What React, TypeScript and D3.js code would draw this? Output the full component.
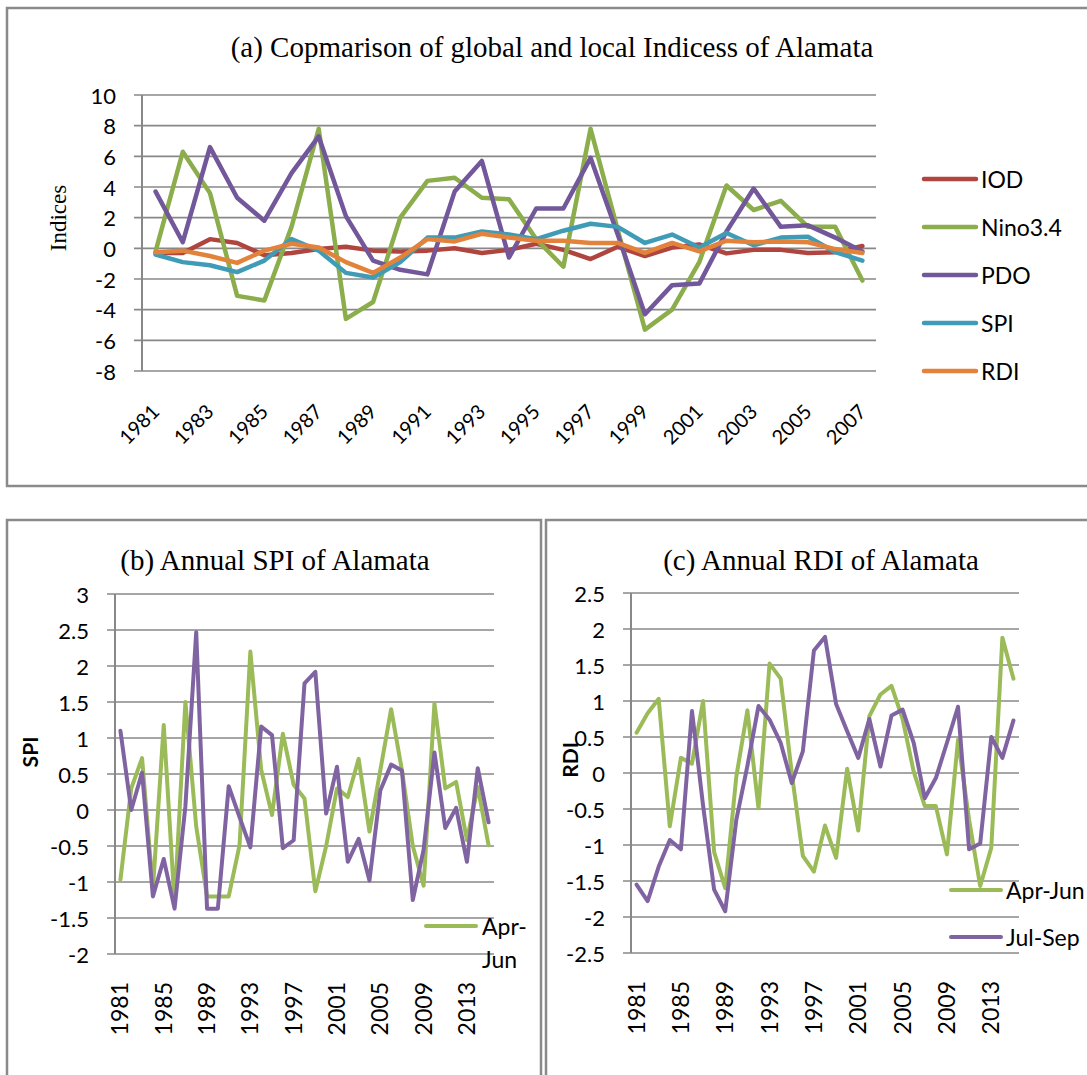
import * as d3 from "d3";

// panel (a): 1981-2007
const yearsA = d3.range(1981, 2008).map(String);
const iod = [-0.3, -0.3, 0.6, 0.35, -0.45, -0.3, -0.05, 0.1, -0.15, -0.2, -0.15, 0.0, -0.3, -0.1, 0.3, -0.1, -0.7, 0.1, -0.5, 0.05, 0.25, -0.33, -0.1, -0.1, -0.3, -0.25, 0.15];
const nino = [-0.2, 6.3, 3.6, -3.1, -3.4, 1.4, 7.8, -4.6, -3.5, 2.0, 4.4, 4.6, 3.3, 3.2, 0.6, -1.2, 7.8, 1.2, -5.3, -4.0, -0.9, 4.1, 2.5, 3.1, 1.4, 1.4, -2.1];
const pdo = [3.7, 0.4, 6.6, 3.3, 1.8, 4.9, 7.3, 2.1, -0.8, -1.4, -1.7, 3.7, 5.7, -0.6, 2.6, 2.6, 5.9, 0.9, -4.3, -2.4, -2.3, 1.1, 3.9, 1.4, 1.5, 0.7, -0.2];
const spiA = [-0.4, -0.9, -1.1, -1.55, -0.8, 0.6, -0.15, -1.6, -1.9, -0.9, 0.7, 0.7, 1.1, 0.9, 0.6, 1.15, 1.6, 1.4, 0.35, 0.9, 0.05, 1.0, 0.2, 0.7, 0.75, -0.25, -0.8];
const rdiA = [-0.25, -0.15, -0.5, -0.95, -0.15, 0.3, 0.05, -0.9, -1.6, -0.6, 0.6, 0.45, 0.95, 0.7, 0.5, 0.5, 0.35, 0.35, -0.3, 0.35, -0.2, 0.5, 0.4, 0.45, 0.4, -0.05, -0.3];
const ticksA = [-8, -6, -4, -2, 0, 2, 4, 6, 8, 10];

// panels (b) and (c): 1981-2015
const yearsB = d3.range(1981, 2016).map(String);
const spiAprJun = [-0.97, 0.3, 0.72, -1.1, 1.18, -1.3, 1.5, -0.23, -1.2, -1.2, -1.2, -0.49, 2.2, 0.56, -0.07, 1.06, 0.35, 0.16, -1.13, -0.5, 0.3, 0.18, 0.71, -0.3, 0.55, 1.4, 0.55, -0.5, -1.05, 1.48, 0.3, 0.39, -0.42, 0.32, -0.49];
const spiJulSep = [1.1, 0.0, 0.52, -1.2, -0.68, -1.37, 0.05, 2.47, -1.37, -1.37, 0.33, -0.1, -0.52, 1.16, 1.04, -0.53, -0.42, 1.76, 1.92, -0.05, 0.6, -0.72, -0.4, -0.98, 0.27, 0.63, 0.55, -1.25, -0.55, 0.8, -0.25, 0.03, -0.72, 0.58, -0.17];
const rdiAprJun = [0.56, 0.83, 1.03, -0.74, 0.21, 0.13, 1.0, -1.1, -1.6, -0.05, 0.87, -0.49, 1.52, 1.31, 0.0, -1.15, -1.37, -0.73, -1.18, 0.06, -0.8, 0.79, 1.09, 1.21, 0.75, 0.02, -0.46, -0.46, -1.13, 0.46, -0.65, -1.57, -1.04, 1.88, 1.31];
const rdiJulSep = [-1.55, -1.78, -1.3, -0.93, -1.06, 0.86, -0.45, -1.62, -1.92, -0.65, 0.1, 0.93, 0.74, 0.42, -0.14, 0.3, 1.7, 1.89, 0.96, 0.58, 0.21, 0.75, 0.09, 0.8, 0.88, 0.42, -0.35, -0.07, 0.42, 0.92, -1.06, -0.98, 0.5, 0.21, 0.73];
const ticksSpi = [-2, -1.5, -1, -0.5, 0, 0.5, 1, 1.5, 2, 2.5, 3];
const ticksRdi = [-2.5, -2, -1.5, -1, -0.5, 0, 0.5, 1, 1.5, 2, 2.5];

const GRID = "#888888";
const SANS = "Lato, 'Liberation Sans', sans-serif";
const SERIF = "'Liberation Serif', 'Times New Roman', serif";

type Series = { name: string; values: number[]; color: string };

function Lines({
  years,
  series,
  ticks,
  left,
  right,
  top,
  bottom,
  width,
  labelEvery,
  rotate,
}: {
  years: string[];
  series: Series[];
  ticks: number[];
  left: number;
  right: number;
  top: number;
  bottom: number;
  width: number;
  labelEvery: number;
  rotate: number;
}) {
  const x = d3.scalePoint<string>().domain(years).range([left, right]).padding(0.5);
  const y = d3
    .scaleLinear()
    .domain([ticks[0]!, ticks[ticks.length - 1]!])
    .range([bottom, top]);
  const line = d3
    .line<number>()
    .x((_, i) => x(years[i]!)!)
    .y((d) => y(d));

  return (
    <g>
      {/* grid + y ticks */}
      {ticks.map((t) => (
        <g key={t}>
          <line x1={left - 8} x2={right} y1={y(t)} y2={y(t)} stroke={GRID} strokeWidth={1.6} />
          <text
            x={left - 26}
            y={y(t)}
            textAnchor="end"
            dominantBaseline="central"
            fontFamily={SANS}
            fontSize={22}
            fill="#000"
          >
            {t}
          </text>
        </g>
      ))}
      <line x1={left} x2={left} y1={top} y2={bottom} stroke={GRID} strokeWidth={2} />

      {/* x labels */}
      {years
        .filter((_, i) => i % labelEvery === 0)
        .map((yr) => {
          const cx = x(yr)!;
          return rotate === -45 ? (
            <text
              key={yr}
              transform={`translate(${cx + 5},${bottom + 42}) rotate(-45)`}
              textAnchor="end"
              fontFamily={SANS}
              fontSize={20}
            >
              {yr}
            </text>
          ) : (
            <text
              key={yr}
              transform={`translate(${cx + 8},${bottom + 28}) rotate(-90)`}
              textAnchor="end"
              fontFamily={SANS}
              fontSize={23}
            >
              {yr}
            </text>
          );
        })}

      {series.map((s) => (
        <path
          key={s.name}
          d={line(s.values) ?? ""}
          fill="none"
          stroke={s.color}
          strokeWidth={width}
          strokeLinejoin="round"
          strokeLinecap="round"
        />
      ))}
    </g>
  );
}

export default function App() {
  const seriesA: Series[] = [
    { name: "IOD", values: iod, color: "#b0443f" },
    { name: "Nino3.4", values: nino, color: "#8cad4c" },
    { name: "PDO", values: pdo, color: "#72589a" },
    { name: "SPI", values: spiA, color: "#3f9bb6" },
    { name: "RDI", values: rdiA, color: "#e3823a" },
  ];
  const seriesB: Series[] = [
    { name: "Apr-Jun", values: spiAprJun, color: "#9bbb59" },
    { name: "Jul-Sep", values: spiJulSep, color: "#8064a2" },
  ];
  const seriesC: Series[] = [
    { name: "Apr-Jun", values: rdiAprJun, color: "#9bbb59" },
    { name: "Jul-Sep", values: rdiJulSep, color: "#8064a2" },
  ];

  return (
    <svg
      width={1087}
      height={1075}
      style={{ position: "absolute", left: 0, top: 0, background: "#fff" }}
    >
      {/* panel frames */}
      <rect x={7} y={8} width={1090} height={478} fill="none" stroke="#8a8a8a" strokeWidth={2.5} />
      <rect x={7} y={520} width={534} height={570} fill="none" stroke="#8a8a8a" strokeWidth={2.5} />
      <rect x={546} y={520} width={560} height={570} fill="none" stroke="#8a8a8a" strokeWidth={2.5} />

      {/* (a) */}
      <text x={552} y={57} textAnchor="middle" fontFamily={SERIF} fontSize={29}>
        (a) Copmarison of global and local Indicess of Alamata
      </text>
      <text
        transform="translate(66,218) rotate(-90)"
        textAnchor="middle"
        fontFamily={SERIF}
        fontSize={23}
      >
        Indices
      </text>
      <Lines
        years={yearsA}
        series={seriesA}
        ticks={ticksA}
        left={142}
        right={876}
        top={95}
        bottom={371}
        width={4.5}
        labelEvery={2}
        rotate={-45}
      />
      {seriesA.map((s, i) => (
        <g key={s.name} transform={`translate(0,${179 + i * 48})`}>
          <line x1={924} x2={976} stroke={s.color} strokeWidth={4.5} strokeLinecap="round" />
          <text x={981} dominantBaseline="central" fontFamily={SANS} fontSize={23}>
            {s.name}
          </text>
        </g>
      ))}

      {/* (b) */}
      <text x={275} y={570} textAnchor="middle" fontFamily={SERIF} fontSize={29}>
        (b) Annual SPI of Alamata
      </text>
      <text
        transform="translate(38,752) rotate(-90)"
        textAnchor="middle"
        fontFamily={SANS}
        fontWeight="bold"
        fontSize={21}
      >
        SPI
      </text>
      <Lines
        years={yearsB}
        series={seriesB}
        ticks={ticksSpi}
        left={115}
        right={494}
        top={594}
        bottom={954}
        width={4}
        labelEvery={4}
        rotate={-90}
      />
      <line x1={426} x2={476} y1={926} y2={926} stroke={seriesB[0]!.color} strokeWidth={4} strokeLinecap="round" />
      <text x={482} y={926} dominantBaseline="central" fontFamily={SANS} fontSize={23}>
        Apr-
      </text>
      <text x={482} y={959} dominantBaseline="central" fontFamily={SANS} fontSize={23}>
        Jun
      </text>

      {/* (c) */}
      <text x={821} y={570} textAnchor="middle" fontFamily={SERIF} fontSize={29}>
        (c) Annual RDI of Alamata
      </text>
      <text
        transform="translate(578,760) rotate(-90)"
        textAnchor="middle"
        fontFamily={SANS}
        fontWeight="bold"
        fontSize={21}
      >
        RDI
      </text>
      <Lines
        years={yearsB}
        series={seriesC}
        ticks={ticksRdi}
        left={631}
        right={1019}
        top={593}
        bottom={953}
        width={4}
        labelEvery={4}
        rotate={-90}
      />
      {seriesC.map((s, i) => (
        <g key={s.name} transform={`translate(0,${890 + i * 47})`}>
          <line x1={951} x2={1001} stroke={s.color} strokeWidth={4} strokeLinecap="round" />
          <text x={1006} dominantBaseline="central" fontFamily={SANS} fontSize={23}>
            {s.name}
          </text>
        </g>
      ))}
    </svg>
  );
}
